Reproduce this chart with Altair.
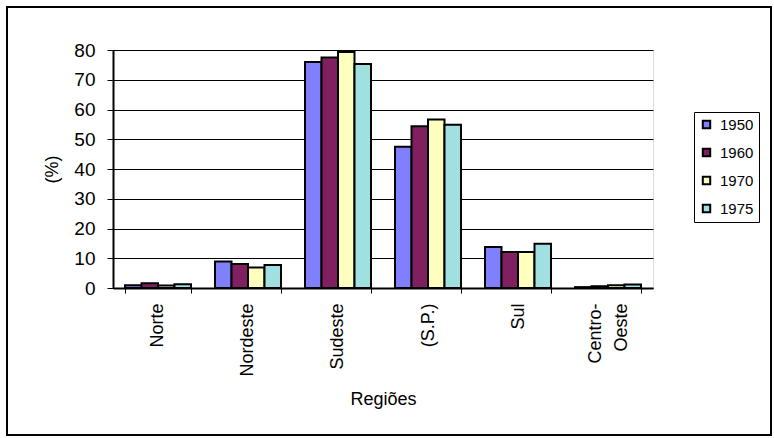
import altair as alt
import pandas as pd

# Participação regional (%) por ano
regioes = ["Norte", "Nordeste", "Sudeste", "(S.P.)", "Sul", "Centro-Oeste"]
anos = ["1950", "1960", "1970", "1975"]
v1950 = [0.9, 8.9, 76.0, 47.5, 13.8, 0.3]
v1960 = [1.6, 8.1, 77.5, 54.4, 12.1, 0.6]
v1970 = [0.8, 6.9, 79.3, 56.6, 12.1, 0.9]
v1975 = [1.3, 7.7, 75.3, 54.9, 14.9, 1.2]
cores = ["#8080FF", "#802060", "#FFFFC0", "#A0E0E0"]

valores = {"1950": v1950, "1960": v1960, "1970": v1970, "1975": v1975}
df = pd.DataFrame(
    [{"regiao": r, "ano": a, "valor": valores[a][i]}
     for i, r in enumerate(regioes) for a in anos]
)

FONT = "Liberation Sans"

bars = alt.Chart(df).mark_bar(stroke="black", strokeWidth=2).encode(
    x=alt.X(
        "regiao:N",
        sort=regioes,
        scale=alt.Scale(paddingInner=0.2667, paddingOuter=0.1333),
        axis=alt.Axis(
            title="Regiões",
            labelAngle=-90,
            tickBand="extent",
            tickSize=5,
            tickColor="black",
            tickWidth=1,
            domainColor="black",
            domainWidth=2,
            labelFont=FONT,
            labelFontSize=18,
            labelColor="black",
            labelPadding=10,
            labelLineHeight=26,
            labelExpr="datum.value == 'Centro-Oeste' ? ['Centro-', 'Oeste'] : datum.label",
            # two-line label: shift so the pair is centred on its band
            labelOffset={"condition": {"test": "datum.value == 'Centro-Oeste'", "value": -13}, "value": 0},
            titleFont=FONT,
            titleFontSize=18,
            titleFontWeight="normal",
            titleColor="black",
            titlePadding=14,
        ),
    ),
    xOffset=alt.XOffset("ano:N", sort=anos, scale=alt.Scale(paddingInner=0, paddingOuter=0)),
    y=alt.Y(
        "valor:Q",
        scale=alt.Scale(domain=[0, 80], nice=False),
        axis=alt.Axis(
            title="(%)",
            values=list(range(0, 81, 10)),
            grid=True,
            gridColor="black",
            gridWidth=1,
            gridOpacity=1,
            tickSize=6,
            tickColor="black",
            domainColor="black",
            domainWidth=2,
            labelFont=FONT,
            labelFontSize=19,
            labelColor="black",
            labelPadding=12,
            titleFont=FONT,
            titleFontSize=18,
            titleFontWeight="normal",
            titleColor="black",
            titlePadding=12,
        ),
    ),
    color=alt.Color(
        "ano:N",
        sort=anos,
        scale=alt.Scale(domain=anos, range=cores),
        legend=alt.Legend(
            title=None,
            orient="none",
            legendX=581,
            legendY=62,
            symbolType="square",
            symbolSize=55,
            symbolStrokeColor="black",
            symbolStrokeWidth=2,
            symbolOpacity=1,
            labelFont=FONT,
            labelFontSize=15,
            labelColor="black",
            labelOffset=6,
            rowPadding=11,
            padding=5,
            strokeColor="black",
            fillColor="white",
        ),
    ),
)

# moldura externa do gráfico
frame = alt.Chart(pd.DataFrame({"k": [0]})).mark_rect(
    filled=False, stroke="black", strokeWidth=2
).encode(
    x=alt.value(-106), x2=alt.value(658), y=alt.value(-43), y2=alt.value(385)
)

chart = alt.layer(frame, bars).properties(
    width=540,
    height=238,
    autosize=alt.AutoSizeParams(type="none"),
    padding={"left": 113, "top": 50, "right": 121, "bottom": 150},
).configure_view(
    stroke="#808080", strokeWidth=2
).configure(background="white")

chart.save("out.html", embed_options={"renderer": "svg", "actions": False})
